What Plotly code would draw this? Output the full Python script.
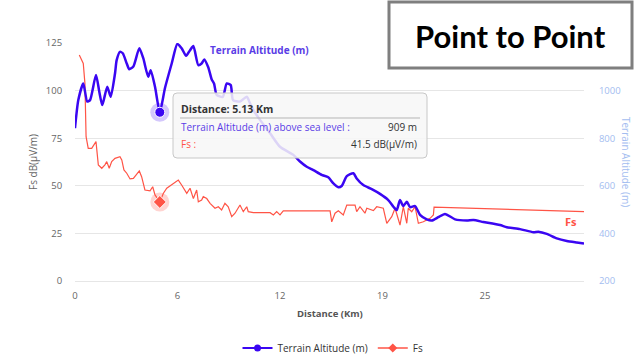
import plotly.graph_objects as go

# ---------------- data ----------------
terrain_km = [0.00, 0.20, 0.50, 0.74, 0.91, 1.27, 1.47, 1.65, 1.95, 2.16, 2.42, 2.52, 2.72,
              2.89, 3.13, 3.28, 3.53, 3.89, 4.13, 4.43, 4.58, 4.84, 5.13, 5.44, 5.85, 6.19,
              6.45, 6.72, 6.96, 7.16, 7.46, 7.66, 7.82, 8.06, 8.27, 8.41, 8.57, 8.94, 9.18,
              9.42, 9.56, 9.98, 10.39, 10.59, 10.79, 11.19, 11.80, 12.40, 13.21, 13.61, 14.02,
              14.42, 14.92, 15.32, 15.63, 15.93, 16.13, 16.44, 16.84, 17.04, 17.44, 17.95,
              18.45, 18.95, 19.26, 19.46, 19.66, 19.86, 20.07, 20.27, 20.57, 20.87, 21.28,
              21.58, 21.98, 22.38, 22.99, 23.70, 24.10, 24.70, 25.71, 26.12, 26.92, 27.73,
              28.03, 28.54, 29.14, 29.75, 30.35, 30.79]
terrain_alt = [842, 960, 1030, 954, 960, 1066, 995, 939, 1016, 974, 1072, 1128, 1163,
               1157, 1114, 1090, 1101, 1178, 1136, 1058, 1086, 1016, 909, 1010, 1114, 1196,
               1178, 1146, 1170, 1187, 1107, 1114, 1131, 1098, 1047, 1030, 982, 974, 1030,
               1023, 960, 954, 974, 946, 918, 877, 821, 764, 730, 702, 680,
               666, 646, 636, 610, 594, 599, 641, 653, 631, 603, 586,
               566, 540, 512, 498, 540, 515, 533, 510, 515, 478, 459,
               454, 468, 482, 459, 454, 456, 448, 435, 426, 418, 405,
               407, 398, 379, 368, 362, 358]

fs_km = [0.26, 0.50, 0.60, 0.67, 0.80, 1.01, 1.27, 1.34, 1.41, 1.62, 1.81, 1.92, 2.07, 2.22,
         2.42, 2.72, 2.83, 2.96, 3.13, 3.33, 3.53, 3.89, 4.03, 4.23, 4.54, 4.70, 4.84, 5.13,
         5.34, 5.55, 5.95, 6.25, 6.45, 6.76, 6.96, 7.16, 7.36, 7.46, 7.66, 7.76, 7.97, 8.17,
         8.47, 8.67, 8.87, 9.07, 9.27, 9.48, 9.68, 9.98, 10.18, 10.39, 10.48, 10.79, 11.80,
         12.00, 12.20, 12.40, 12.60, 15.43, 15.53, 15.73, 15.93, 16.23, 16.44, 16.94, 17.04,
         17.24, 17.54, 17.65, 18.05, 18.25, 18.65, 18.86, 19.16, 19.36, 19.66, 19.86, 20.07,
         20.16, 20.37, 20.57, 20.77, 21.07, 21.48, 21.68, 21.72, 30.79]
fs_db = [118.7, 114.3, 103.8, 75.8, 69.7, 69.7, 73.2, 66, 61, 59.2, 61, 62.7, 59.2, 62.7,
         64.4, 65.3, 63.6, 58.3, 56.6, 53.6, 53.9, 57.8, 54.8, 47.8, 47.3, 49.5, 45.2, 41.5,
         46, 48.7, 51.3, 53, 50.4, 46, 48.7, 43.3, 47.8, 41.6, 42.5, 44.3, 43.3, 40.8,
         38.2, 39, 37.3, 40.8, 39, 33.8, 35.6, 39.9, 36.4, 39, 36.4, 35.9, 35.9,
         34.7, 36.4, 34.7, 36.8, 36.8, 31.1, 35.6, 36.9, 34.7, 39.9, 39.9, 36.4,
         39, 35.6, 38.2, 37, 39, 38.2, 30.3, 33.8, 38.2, 29.4, 39, 30.3,
         38.2, 36.4, 39, 30.3, 31.1, 32.9, 34.7, 38.8, 36.4]

x_tickvals = [0, 6.2, 12.4, 18.6, 24.8]
x_ticktext = ["0", "6", "12", "19", "25"]
left_ticks = [0, 25, 50, 75, 100, 125]
right_ticks = [200, 400, 600, 800, 1000]

hover_km = 5.13
hover_alt = 909
hover_fs = 41.5

# ---------------- style ----------------
BLUE = "#3a06f2"
BLUE_TXT = "#5a3de6"
RED = "#ff5446"
FONT = "Open Sans"

W, H = 634, 358
L, R, T, B = 75, 584, 43, 281


def PX(x):
    return (x - L) / (R - L)


def PY(y):
    return (B - y) / (B - T)


fig = go.Figure()

fig.add_trace(go.Scatter(x=terrain_km, y=terrain_alt, yaxis="y2", mode="lines",
                         line=dict(color=BLUE, width=2.5, shape="spline", smoothing=0.6),
                         showlegend=False, hoverinfo="skip"))
fig.add_trace(go.Scatter(x=fs_km, y=fs_db, mode="lines",
                         line=dict(color=RED, width=1.2),
                         showlegend=False, hoverinfo="skip"))

# hover halos & markers
fig.add_trace(go.Scatter(x=[hover_km], y=[hover_alt], yaxis="y2", mode="markers",
                         marker=dict(size=19, color="rgba(58,6,242,0.22)", line=dict(width=0)),
                         showlegend=False, hoverinfo="skip"))
fig.add_trace(go.Scatter(x=[hover_km], y=[hover_alt], yaxis="y2", mode="markers",
                         marker=dict(size=10, color=BLUE, line=dict(width=1, color="white")),
                         showlegend=False, hoverinfo="skip"))
fig.add_trace(go.Scatter(x=[hover_km], y=[hover_fs], mode="markers",
                         marker=dict(size=19, color="rgba(255,84,70,0.25)", line=dict(width=0)),
                         showlegend=False, hoverinfo="skip"))
fig.add_trace(go.Scatter(x=[hover_km], y=[hover_fs], mode="markers",
                         marker=dict(size=10, symbol="diamond", color=RED, line=dict(width=1, color="white")),
                         showlegend=False, hoverinfo="skip"))

# legend entries
fig.add_trace(go.Scatter(x=[None], y=[None], yaxis="y2", mode="lines+markers",
                         name="Terrain Altitude (m)",
                         line=dict(color=BLUE, width=2), marker=dict(size=7, color=BLUE)))
fig.add_trace(go.Scatter(x=[None], y=[None], mode="lines+markers", name="Fs",
                         line=dict(color=RED, width=1.5),
                         marker=dict(size=7, color=RED, symbol="diamond")))

shapes = []
annotations = []

# tooltip box
x0, x1, y0, y1, r = 173, 427, 93, 158, 4
path = (f"M {PX(x0 + r)},{PY(y0)} L {PX(x1 - r)},{PY(y0)} Q {PX(x1)},{PY(y0)} {PX(x1)},{PY(y0 + r)} "
        f"L {PX(x1)},{PY(y1 - r)} Q {PX(x1)},{PY(y1)} {PX(x1 - r)},{PY(y1)} "
        f"L {PX(x0 + r)},{PY(y1)} Q {PX(x0)},{PY(y1)} {PX(x0)},{PY(y1 - r)} "
        f"L {PX(x0)},{PY(y0 + r)} Q {PX(x0)},{PY(y0)} {PX(x0 + r)},{PY(y0)} Z")
shapes.append(dict(type="path", xref="paper", yref="paper", path=path, layer="above",
                   fillcolor="rgba(247,247,247,0.86)", line=dict(color="#c8c8c8", width=1)))
shapes.append(dict(type="line", xref="paper", yref="paper", layer="above",
                   x0=PX(180), x1=PX(420), y0=PY(118), y1=PY(118),
                   line=dict(color="#b5b5b5", width=1)))

annotations += [
    dict(x=PX(179), y=PY(109), xref="paper", yref="paper", xanchor="left", yanchor="middle",
         showarrow=False, text="<b>Distance: 5.13 Km</b>", font=dict(family=FONT, size=10.5, color="#333333")),
    dict(x=PX(179), y=PY(127.5), xref="paper", yref="paper", xanchor="left", yanchor="middle",
         showarrow=False, text="Terrain Altitude (m) above sea level :",
         font=dict(family=FONT, size=10, color=BLUE_TXT)),
    dict(x=PX(419), y=PY(127.5), xref="paper", yref="paper", xanchor="right", yanchor="middle",
         showarrow=False, text=f"{hover_alt} m", font=dict(family=FONT, size=10, color="#333333")),
    dict(x=PX(179), y=PY(143.5), xref="paper", yref="paper", xanchor="left", yanchor="middle",
         showarrow=False, text="Fs :", font=dict(family=FONT, size=10, color=RED)),
    dict(x=PX(419), y=PY(143.5), xref="paper", yref="paper", xanchor="right", yanchor="middle",
         showarrow=False, text=f"{hover_fs} dB(µV/m)", font=dict(family=FONT, size=10, color="#333333")),
]

# series labels
annotations += [
    dict(x=PX(208), y=PY(50), xref="paper", yref="paper", xanchor="left", yanchor="middle",
         showarrow=False, text="<b>Terrain Altitude (m)</b>", font=dict(family=FONT, size=10, color=BLUE_TXT)),
    dict(x=PX(571), y=PY(221), xref="paper", yref="paper", xanchor="center", yanchor="middle",
         showarrow=False, text="<b>Fs</b>", font=dict(family=FONT, size=11, color=RED)),
]

# axis titles
annotations += [
    dict(x=PX(33), y=PY(162), xref="paper", yref="paper", xanchor="center", yanchor="middle",
         showarrow=False, textangle=-90, text="Fs dB(µV/m)", font=dict(family=FONT, size=10, color="#666666")),
    dict(x=PX(626), y=PY(162), xref="paper", yref="paper", xanchor="center", yanchor="middle",
         showarrow=False, textangle=90, text="Terrain Altitude (m)", font=dict(family=FONT, size=10, color="#a3bdf0")),
    dict(x=PX(330), y=PY(313), xref="paper", yref="paper", xanchor="center", yanchor="middle",
         showarrow=False, text="<b>Distance (Km)</b>", font=dict(family=FONT, size=9.5, color="#555555")),
]

# "Point to Point" box
shapes.append(dict(type="rect", xref="paper", yref="paper", layer="above",
                   x0=PX(389), x1=PX(632), y0=PY(68), y1=PY(2),
                   fillcolor="white", line=dict(color="#7f7f7f", width=3)))
annotations.append(dict(x=PX(510.5), y=PY(36), xref="paper", yref="paper", xanchor="center", yanchor="middle",
                        showarrow=False, text="<b>Point to Point</b>",
                        font=dict(family="Lato", size=31, color="black")))

fig.update_layout(
    width=W, height=H,
    margin=dict(l=L, r=W - R, t=T, b=H - B, pad=0, autoexpand=False),
    paper_bgcolor="white", plot_bgcolor="white",
    font=dict(family=FONT, size=10, color="#666666"),
    xaxis=dict(range=[0, 30.79], tickvals=x_tickvals, ticktext=x_ticktext, automargin=False,
               showgrid=False, zeroline=False, showline=True, linecolor="#e6e6e6", linewidth=1,
               ticks="outside", ticklen=6, tickcolor="rgba(0,0,0,0)",
               tickfont=dict(family=FONT, size=9.5, color="#666666")),
    yaxis=dict(range=[0, 125], tickvals=left_ticks, showgrid=True, gridcolor="#e6e6e6",
               automargin=False,
               zeroline=False, showline=False, ticks="outside", ticklen=10,
               tickcolor="rgba(0,0,0,0)", tickfont=dict(family=FONT, size=9.5, color="#666666")),
    yaxis2=dict(range=[200, 1200], tickvals=right_ticks, overlaying="y", side="right",
                automargin=False,
                showgrid=False, zeroline=False, showline=False, ticks="outside", ticklen=12,
                tickcolor="rgba(0,0,0,0)", tickfont=dict(family=FONT, size=9.5, color="#a3bdf0")),
    legend=dict(orientation="h", x=PX(333), y=PY(348), xanchor="center", yanchor="middle",
                font=dict(family=FONT, size=10, color="#333333"), itemwidth=30,
                bgcolor="rgba(0,0,0,0)"),
    shapes=shapes, annotations=annotations,
)

fig.write_html("out.html", config={"displayModeBar": False},
               post_script="document.body.style.margin='0';document.body.style.overflow='hidden';")
